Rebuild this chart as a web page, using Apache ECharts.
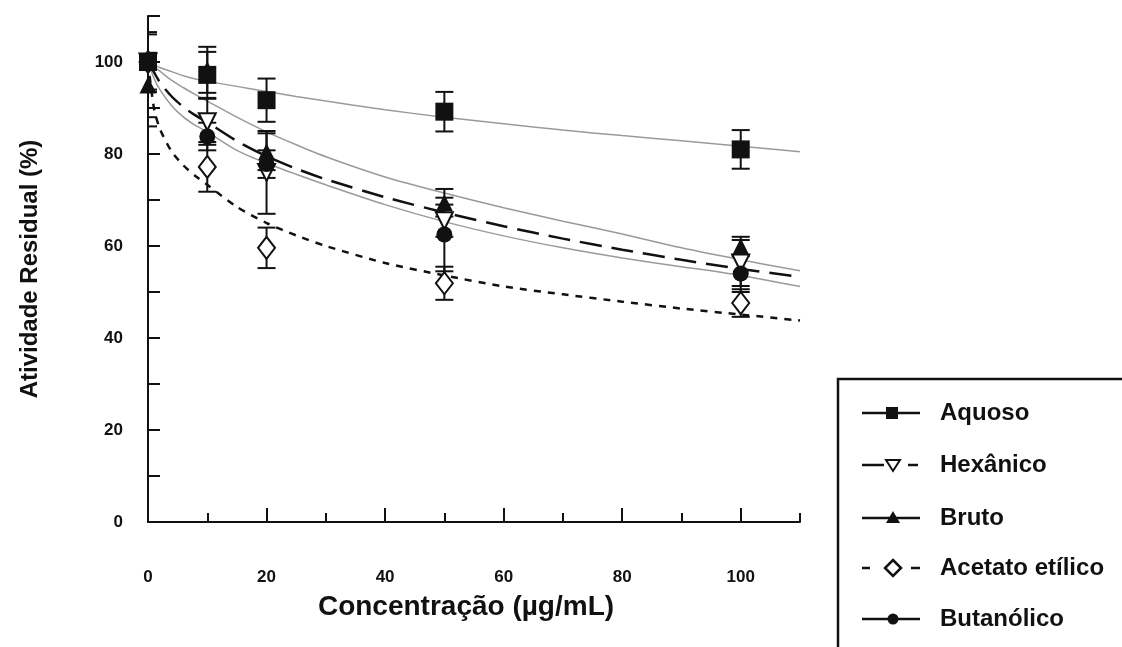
<!DOCTYPE html>
<html>
<head>
<meta charset="utf-8">
<script src="https://cdn.jsdelivr.net/npm/echarts@6/dist/echarts.min.js"></script>
<style>
  html, body { margin: 0; padding: 0; background: #fff; }
  #chart { width: 1122px; height: 647px; }
</style>
</head>
<body>
<div id="chart"></div>
<script>
// pontos medidos
var conc = [0, 10, 20, 50, 100];
var aquoso = [100, 97.2, 91.7, 89.2, 81];
var aquosoErr = [6, 5, 4.7, 4.3, 4.2];
var hexanico = [100, 87, 76, 65.5, 56.3];
var hexanicoErr = [6.5, 5, 9, 3.5, 5];
var bruto = [95, 98.3, 80.5, 69.4, 59.9];
var brutoErr = [7, 5, 4, 3, 2.1];
var acetato = [100, 77.2, 59.6, 51.9, 47.6];
var acetatoErr = [10, 5.4, 4.4, 3.6, 3];
var butanolico = [100, 83.8, 77.8, 62.5, 54];
var butanolicoErr = [14, 3, 3, 8, 4];

// curvas ajustadas
var curveX = [0, 1, 2, 4, 6, 8, 10, 15, 20, 25, 30, 40, 50, 60, 70, 80, 90, 100, 110];
var aquosoFit = [100, 99.4, 98.8, 97.9, 97.0, 96.3, 95.8, 94.7, 93.6, 92.5, 91.5, 89.6, 88.0, 86.6, 85.2, 84.0, 82.9, 81.7, 80.5];
var brutoFit = [100, 99, 98, 96, 94.4, 92.9, 91.5, 88.0, 84.8, 82.0, 79.4, 75.0, 71.5, 68.3, 65.4, 62.6, 59.6, 57.0, 54.6];
var hexanicoFit = [100, 97.8, 95.6, 92.5, 90.2, 88.4, 86.9, 82.8, 79.5, 76.8, 74.5, 70.6, 67.3, 64.3, 61.6, 59.2, 57.0, 55.0, 53.3];
var acetatoFit = [100, 90, 85.5, 80.5, 77.5, 75.2, 73.3, 68.5, 65.0, 62.3, 60.0, 56.3, 53.6, 51.2, 49.5, 47.9, 46.4, 45.1, 43.8];
var butanolicoFit = [100, 96.5, 94, 90.5, 88.0, 86.2, 84.8, 80.8, 78.0, 75.6, 73.3, 69.0, 65.3, 62.2, 59.6, 57.4, 55.5, 53.6, 51.2];

var xLabels = [0, 20, 40, 60, 80, 100];
var yLabels = [0, 20, 40, 60, 80, 100];
var legendNames = ['Aquoso', 'Hexânico', 'Bruto', 'Acetato etílico', 'Butanólico'];

var FONT = "'Liberation Sans', Arial, sans-serif";

function pairs(xs, ys) {
    return xs.map(function (x, i) { return [x, ys[i]]; });
}
function errPairs(ys, errs) {
    return conc.map(function (x, i) { return [x, ys[i], errs[i]]; });
}

function fitLine(name, ys, style) {
    return {
        name: name + ' fit',
        type: 'line',
        data: pairs(curveX, ys),
        smooth: 0.25,
        showSymbol: false,
        silent: true,
        z: 2,
        lineStyle: style
    };
}

function errBars(ys, errs) {
    return {
        type: 'custom',
        data: errPairs(ys, errs),
        clip: true,
        silent: true,
        z: 3,
        renderItem: function (params, api) {
            var x = api.value(0), y = api.value(1), e = api.value(2);
            var top = api.coord([x, y + e]);
            var bot = api.coord([x, y - e]);
            var w = 9;
            var st = { stroke: '#111', lineWidth: 2 };
            return {
                type: 'group',
                children: [
                    { type: 'line', shape: { x1: top[0], y1: top[1], x2: bot[0], y2: bot[1] }, style: st },
                    { type: 'line', shape: { x1: top[0] - w, y1: top[1], x2: top[0] + w, y2: top[1] }, style: st },
                    { type: 'line', shape: { x1: bot[0] - w, y1: bot[1], x2: bot[0] + w, y2: bot[1] }, style: st }
                ]
            };
        }
    };
}

function points(name, ys, symbol, size, filled, rotate) {
    return {
        name: name,
        type: 'scatter',
        data: pairs(conc, ys),
        symbol: symbol,
        symbolSize: size,
        symbolRotate: rotate || 0,
        z: 4,
        itemStyle: {
            color: filled ? '#111' : '#fff',
            borderColor: '#111',
            borderWidth: filled ? 0 : 2,
            opacity: 1
        }
    };
}

var grey = { color: '#9a9a9a', width: 1.5, type: 'solid' };

// legenda desenhada à mão
var lx = 862, rowY = [413, 465, 518, 568, 619];
var black = { stroke: '#111', lineWidth: 2.5 };
function seg(x1, x2, y) {
    return { type: 'line', shape: { x1: x1, y1: y, x2: x2, y2: y }, style: black };
}
var legendEls = [
    { type: 'rect', shape: { x: 838, y: 379, width: 320, height: 300 }, style: { fill: '#fff', stroke: '#111', lineWidth: 2.5 } }
];
// Aquoso
legendEls.push(seg(lx, 920, rowY[0]));
legendEls.push({ type: 'rect', shape: { x: 886, y: rowY[0] - 6, width: 12, height: 12 }, style: { fill: '#111' } });
// Hexânico
legendEls.push(seg(lx, 884, rowY[1]));
legendEls.push({ type: 'polygon', shape: { points: [[886, rowY[1] - 5], [900, rowY[1] - 5], [893, rowY[1] + 6]] }, style: { fill: '#fff', stroke: '#111', lineWidth: 2 } });
legendEls.push(seg(908, 918, rowY[1]));
// Bruto
legendEls.push(seg(lx, 920, rowY[2]));
legendEls.push({ type: 'polygon', shape: { points: [[886, rowY[2] + 5], [900, rowY[2] + 5], [893, rowY[2] - 7]] }, style: { fill: '#111' } });
// Acetato etílico
legendEls.push(seg(lx, 870, rowY[3]));
legendEls.push({ type: 'polygon', shape: { points: [[893, rowY[3] - 8], [901, rowY[3]], [893, rowY[3] + 8], [885, rowY[3]]] }, style: { fill: '#fff', stroke: '#111', lineWidth: 2.5 } });
legendEls.push(seg(911, 920, rowY[3]));
// Butanólico
legendEls.push(seg(lx, 920, rowY[4]));
legendEls.push({ type: 'circle', shape: { cx: 893, cy: rowY[4], r: 5.5 }, style: { fill: '#111' } });
legendNames.forEach(function (n, i) {
    legendEls.push({
        type: 'text', x: 940, y: rowY[i],
        style: { text: n, font: 'bold 24px ' + FONT, fill: '#111', verticalAlign: 'middle', align: 'left' }
    });
});

var myChart = echarts.init(document.getElementById('chart'));
myChart.setOption({
    animation: false,
    backgroundColor: '#fff',
    textStyle: { fontFamily: FONT },
    grid: { left: 148, top: 16, width: 652, height: 506 },
    xAxis: [{
        type: 'value',
        min: 0, max: 110, interval: 10,
        name: 'Concentração (µg/mL)',
        nameLocation: 'middle',
        nameGap: 71,
        nameTextStyle: { fontFamily: FONT, fontWeight: 'bold', fontSize: 28, color: '#111', padding: [0, 16, 0, 0] },
        axisLine: { lineStyle: { color: '#111', width: 2 } },
        axisTick: { inside: true, length: 9, lineStyle: { color: '#111', width: 2 } },
        axisLabel: {
            margin: 47, fontFamily: FONT, fontWeight: 'bold', fontSize: 17, color: '#111',
            formatter: function (v) { return xLabels.indexOf(v) >= 0 ? v : ''; }
        },
        splitLine: { show: false }
    }, {
        type: 'value',
        position: 'bottom',
        min: 0, max: 110,
        axisLine: { show: false },
        axisTick: { show: true, inside: true, length: 14, customValues: xLabels, lineStyle: { color: '#111', width: 2 } },
        axisLabel: { show: false },
        splitLine: { show: false }
    }],
    yAxis: {
        type: 'value',
        min: 0, max: 110, interval: 10,
        name: 'Atividade Residual (%)',
        nameLocation: 'middle',
        nameGap: 106,
        nameTextStyle: { fontFamily: FONT, fontWeight: 'bold', fontSize: 24, color: '#111' },
        axisLine: { show: true, lineStyle: { color: '#111', width: 2 } },
        axisTick: { show: true, inside: true, length: 12, lineStyle: { color: '#111', width: 2 } },
        axisLabel: {
            margin: 25, fontFamily: FONT, fontWeight: 'bold', fontSize: 17, color: '#111',
            formatter: function (v) { return yLabels.indexOf(v) >= 0 ? v : ''; }
        },
        splitLine: { show: false }
    },
    graphic: legendEls,
    series: [
        fitLine('Aquoso', aquosoFit, grey),
        fitLine('Bruto', brutoFit, grey),
        fitLine('Butanólico', butanolicoFit, grey),
        fitLine('Hexânico', hexanicoFit, { color: '#111', width: 2.5, type: [22, 10] }),
        fitLine('Acetato etílico', acetatoFit, { color: '#111', width: 2.5, type: [7, 7] }),
        errBars(hexanico, hexanicoErr),
        errBars(acetato, acetatoErr),
        errBars(bruto, brutoErr),
        errBars(butanolico, butanolicoErr),
        errBars(aquoso, aquosoErr),
        points('Hexânico', hexanico, 'triangle', 17, false, 180),
        points('Acetato etílico', acetato, 'diamond', [17, 22], false),
        points('Bruto', bruto, 'triangle', 17, true),
        points('Butanólico', butanolico, 'circle', 16, true),
        points('Aquoso', aquoso, 'rect', 18, true)
    ]
});
</script>
</body>
</html>
